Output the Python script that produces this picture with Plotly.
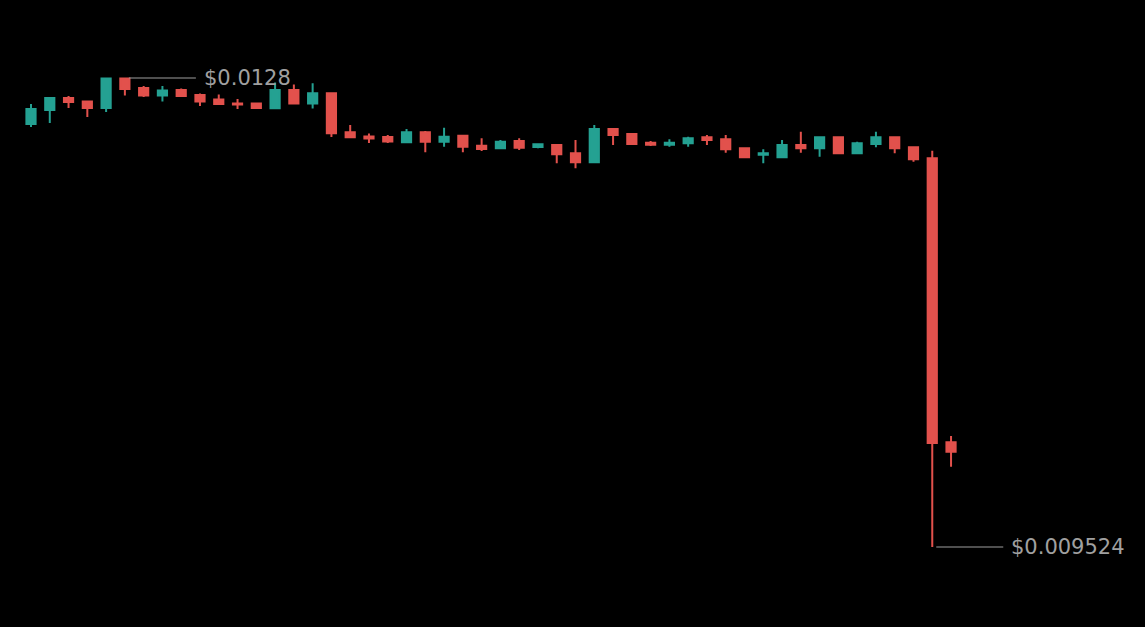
import plotly.graph_objects as go

# candle index (one entry per bar)
bars = list(range(50))

open_ = [0.012479, 0.012577, 0.012660, 0.012636, 0.012590, 0.012797, 0.012730, 0.012678, 0.012716, 0.012681,
         0.012650, 0.012622, 0.012622, 0.012588, 0.012716, 0.012622, 0.012693, 0.012421, 0.012391, 0.012388,
         0.012351, 0.012421, 0.012355, 0.012397, 0.012327, 0.012309, 0.012360, 0.012318, 0.012332, 0.012274,
         0.012211, 0.012444, 0.012409, 0.012348, 0.012334, 0.012344, 0.012386, 0.012372, 0.012309, 0.012264,
         0.012246, 0.012332, 0.012309, 0.012386, 0.012274, 0.012339, 0.012386, 0.012316, 0.012239, 0.010255]
high = [0.012618, 0.012667, 0.012674, 0.012643, 0.012797, 0.012800, 0.012744, 0.012744, 0.012727, 0.012692,
        0.012685, 0.012653, 0.012625, 0.012769, 0.012755, 0.012763, 0.012695, 0.012472, 0.012412, 0.012402,
        0.012444, 0.012430, 0.012453, 0.012402, 0.012379, 0.012367, 0.012379, 0.012339, 0.012336, 0.012367,
        0.012472, 0.012447, 0.012412, 0.012360, 0.012372, 0.012390, 0.012402, 0.012402, 0.012316, 0.012302,
        0.012367, 0.012425, 0.012388, 0.012388, 0.012355, 0.012425, 0.012388, 0.012318, 0.012292, 0.010299]
low = [0.012458, 0.012486, 0.012590, 0.012528, 0.012563, 0.012678, 0.012667, 0.012636, 0.012669, 0.012604,
       0.012615, 0.012584, 0.012584, 0.012587, 0.012618, 0.012587, 0.012388, 0.012384, 0.012346, 0.012346,
       0.012350, 0.012281, 0.012320, 0.012281, 0.012290, 0.012308, 0.012297, 0.012309, 0.012204, 0.012169,
       0.012210, 0.012332, 0.012336, 0.012325, 0.012320, 0.012320, 0.012332, 0.012278, 0.012245, 0.012204,
       0.012245, 0.012278, 0.012250, 0.012273, 0.012273, 0.012316, 0.012274, 0.012215, 0.009524, 0.010085]
close = [0.012584, 0.012660, 0.012632, 0.012590, 0.012797, 0.012723, 0.012678, 0.012713, 0.012674, 0.012636,
         0.012618, 0.012615, 0.012590, 0.012716, 0.012622, 0.012693, 0.012414, 0.012386, 0.012377, 0.012356,
         0.012421, 0.012355, 0.012390, 0.012320, 0.012304, 0.012355, 0.012313, 0.012337, 0.012267, 0.012211,
         0.012444, 0.012402, 0.012339, 0.012334, 0.012348, 0.012379, 0.012367, 0.012302, 0.012246, 0.012274,
         0.012332, 0.012309, 0.012386, 0.012274, 0.012344, 0.012386, 0.012309, 0.012232, 0.010250, 0.010190]

up_color = '#24a192'
down_color = '#e2514c'

fig = go.Figure(go.Candlestick(
    x=bars, open=open_, high=high, low=low, close=close,
    increasing=dict(line=dict(color=up_color, width=2), fillcolor=up_color),
    decreasing=dict(line=dict(color=down_color, width=2), fillcolor=down_color),
    whiskerwidth=0, hoverinfo='skip',
))

# mark the highest high and the lowest low
hi_i = high.index(max(high))
lo_i = low.index(min(low))
for i, val, label in [(hi_i, high[hi_i], '$0.0128'), (lo_i, low[lo_i], '$0.009524')]:
    fig.add_annotation(
        x=bars[i], y=val, text=label, xanchor='left', yanchor='middle',
        showarrow=True, arrowhead=0, arrowwidth=1, arrowcolor='#9e9e9e',
        standoff=4, ax=71, ay=0, axref='pixel', ayref='pixel', borderpad=7,
        font=dict(family='DejaVu Sans', size=21, color='#a0a0a0'),
    )

fig.update_layout(
    width=1145, height=627,
    margin=dict(l=0, r=0, t=0, b=0),
    paper_bgcolor='black', plot_bgcolor='black',
    showlegend=False,
    xaxis=dict(visible=False, range=[-1.651, 59.33], rangeslider=dict(visible=False)),
    yaxis=dict(visible=False, range=[0.0089652, 0.0133448]),
)

# drop the page margin so the chart fills the window
fig.write_html("out.html", config={'displayModeBar': False},
               post_script="document.body.style.margin='0';")
